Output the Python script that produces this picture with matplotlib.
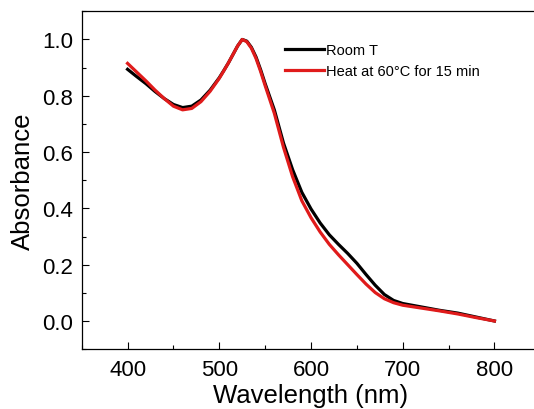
"""UV-vis absorbance spectra: room temperature vs heated sample."""
import matplotlib
matplotlib.use("Agg")
import matplotlib.pyplot as plt
from matplotlib.ticker import MultipleLocator

plt.rcParams["font.family"] = ["Liberation Sans", "DejaVu Sans"]

wavelength = [400, 410, 420, 430, 440, 450, 460, 470, 480, 490, 500, 505, 510, 515,
              520, 525, 530, 535, 540, 545, 550, 560, 570, 580, 590, 600, 610, 620,
              630, 640, 650, 660, 670, 680, 690, 700, 720, 740, 760, 780, 800]
room_t = [0.894, 0.868, 0.843, 0.815, 0.790, 0.769, 0.758, 0.763, 0.785, 0.820, 0.864,
          0.890, 0.917, 0.947, 0.977, 1.000, 0.994, 0.972, 0.938, 0.893, 0.843, 0.750,
          0.632, 0.537, 0.457, 0.398, 0.348, 0.306, 0.272, 0.240, 0.205, 0.165, 0.127,
          0.094, 0.073, 0.062, 0.050, 0.038, 0.028, 0.014, 0.000]
heated = [0.915, 0.884, 0.853, 0.820, 0.790, 0.763, 0.750, 0.755, 0.779, 0.816, 0.862,
          0.889, 0.917, 0.947, 0.977, 1.000, 0.992, 0.969, 0.933, 0.887, 0.836, 0.738,
          0.617, 0.512, 0.427, 0.367, 0.316, 0.272, 0.235, 0.200, 0.165, 0.131, 0.101,
          0.079, 0.065, 0.056, 0.046, 0.036, 0.025, 0.012, 0.000]

fig = plt.figure(figsize=(5.34, 4.10), dpi=100)
# the source figure is cropped on the right, so no right spine is seen
ax = fig.add_axes([0.153, 0.146, 0.876, 0.824])

ax.plot(wavelength, room_t, color="black", lw=2.3, label="Room T",
        solid_joinstyle="round")
ax.plot(wavelength, heated, color="#e01b1b", lw=2.3, label="Heat at 60°C for 15 min",
        solid_joinstyle="round")

ax.set_xlim(350, 860)
ax.set_ylim(-0.1, 1.1)
ax.set_xticks([400, 500, 600, 700, 800])
ax.set_yticks([0.0, 0.2, 0.4, 0.6, 0.8, 1.0])
ax.xaxis.set_minor_locator(MultipleLocator(50))
ax.yaxis.set_minor_locator(MultipleLocator(0.1))
ax.tick_params(which="both", direction="in", width=0.8, labelsize=16)
ax.tick_params(axis="y", which="major", length=5, pad=6)
ax.tick_params(axis="x", which="major", length=5, pad=7)
ax.tick_params(which="minor", length=3)
for s in ax.spines.values():
    s.set_linewidth(0.9)
ax.spines["right"].set_visible(False)

ax.set_xlabel("Wavelength (nm)", fontsize=18.5)
ax.set_ylabel("Absorbance", fontsize=18.5)
ax.xaxis.set_label_coords(0.49, -0.1)
ax.yaxis.set_label_coords(-0.1, 0.5)

ax.legend(loc="upper left", bbox_to_anchor=(0.434, 0.905), frameon=False,
          fontsize=10.5, handlelength=2.7, handletextpad=0.15, labelspacing=0.45,
          borderpad=0, borderaxespad=0)

fig.savefig("out.png", dpi=100)
